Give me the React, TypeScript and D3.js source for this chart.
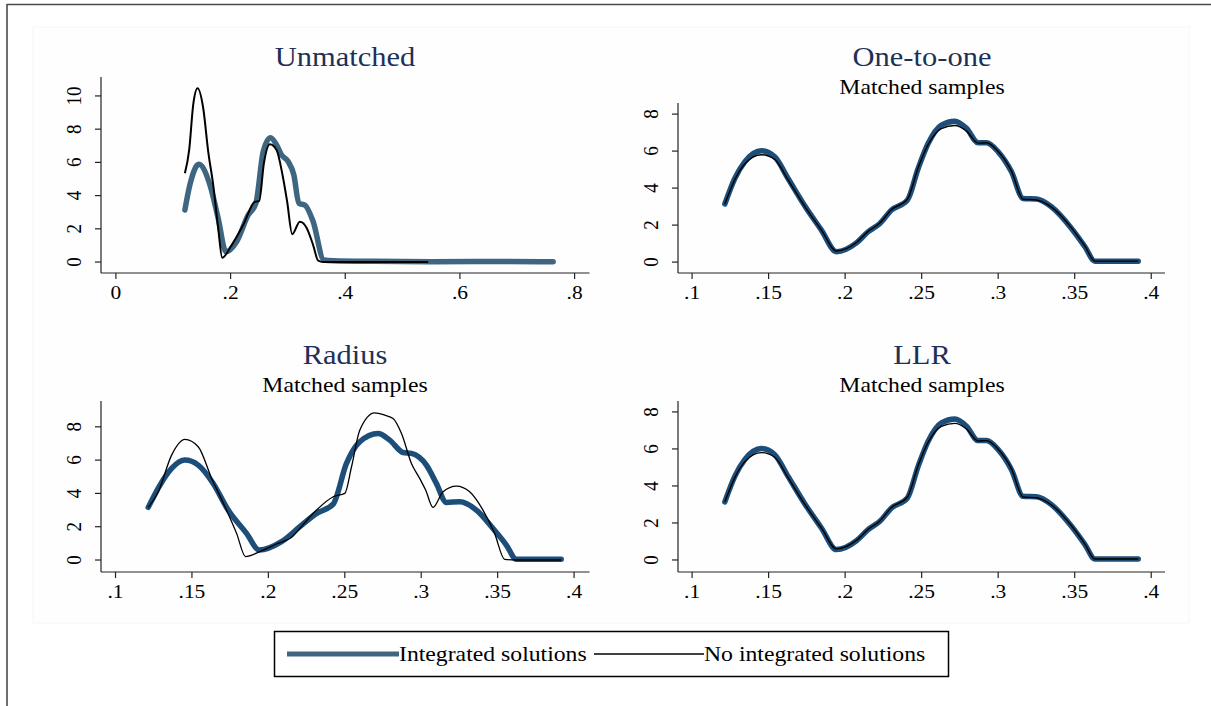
import React from "react";
import { scaleLinear, line, curveMonotoneX } from "d3";

// density estimates: [propensity score, density]
const unmatchedIntegrated: [number, number][] = [
  [0.1203, 3.13], [0.129, 4.64], [0.1447, 5.88], [0.164, 4.64], [0.1784, 2.63],
  [0.1918, 0.62], [0.2104, 1.22], [0.2307, 2.83], [0.2441, 3.53], [0.2569, 6.65],
  [0.2697, 7.49], [0.2802, 7.05], [0.2889, 6.45], [0.3005, 6.04], [0.3104, 5.24],
  [0.3191, 3.53], [0.3296, 3.43], [0.3441, 2.43], [0.3627, 0.12], [0.379, 0.08],
  [0.45, 0.04], [0.55, 0.02], [0.65, 0.03], [0.7626, 0.02],
];
const unmatchedNone: [number, number][] = [
  [0.1203, 5.34], [0.1278, 6.75], [0.1348, 9.46], [0.1424, 10.46], [0.1523, 9.26],
  [0.161, 6.65], [0.1697, 4.64], [0.1784, 2.03], [0.1854, 0.26], [0.2018, 1.02],
  [0.222, 2.23], [0.2424, 3.63], [0.2499, 3.67], [0.2581, 5.94], [0.2685, 7.09],
  [0.2802, 6.75], [0.2906, 5.24], [0.2987, 3.63], [0.3075, 1.67], [0.3208, 2.43],
  [0.3325, 2.07], [0.344, 1.02], [0.3528, 0.08], [0.3615, 0.0], [0.45, 0.0], [0.5446, 0.0],
];
const oneToOneIntegrated: [number, number][] = [
  [0.1214, 3.14], [0.1279, 4.52], [0.1344, 5.42], [0.1453, 6.02], [0.154, 5.69],
  [0.1627, 4.52], [0.1737, 3.03], [0.1845, 1.73], [0.1943, 0.56], [0.2074, 1.04],
  [0.215, 1.64], [0.2227, 2.09], [0.2303, 2.81], [0.2407, 3.35], [0.2477, 5.06],
  [0.2542, 6.41], [0.2629, 7.41], [0.2717, 7.62], [0.2793, 7.23], [0.2869, 6.45],
  [0.2924, 6.45], [0.3, 5.96], [0.3087, 4.88], [0.3163, 3.44], [0.325, 3.41],
  [0.3348, 2.99], [0.3479, 1.82], [0.3567, 0.83], [0.3632, 0.05], [0.3915, 0.05],
];
const oneToOneNone: [number, number][] = [
  [0.1214, 3.14], [0.1279, 4.45], [0.1344, 5.3], [0.1453, 5.8], [0.154, 5.55],
  [0.1627, 4.45], [0.1737, 3.0], [0.1845, 1.73], [0.1943, 0.6], [0.2074, 1.06],
  [0.215, 1.66], [0.2227, 2.11], [0.2303, 2.84], [0.2407, 3.4], [0.2477, 5.1],
  [0.2542, 6.35], [0.2629, 7.22], [0.2717, 7.38], [0.2793, 7.08], [0.2869, 6.43],
  [0.2924, 6.45], [0.3, 5.98], [0.3087, 4.92], [0.3163, 3.4], [0.325, 3.36],
  [0.3348, 2.97], [0.3479, 1.85], [0.3567, 0.86], [0.3632, 0.05], [0.3915, 0.05],
];
const radiusIntegrated: [number, number][] = [
  [0.1214, 3.16], [0.1291, 4.5], [0.1367, 5.5], [0.1454, 6.0], [0.1541, 5.7],
  [0.1639, 4.6], [0.1737, 3.0], [0.1857, 1.6], [0.194, 0.6], [0.2086, 1.1],
  [0.2206, 2.0], [0.2315, 2.8], [0.2424, 3.36], [0.2511, 5.8], [0.2598, 7.1],
  [0.2718, 7.6], [0.2794, 7.2], [0.2881, 6.46], [0.2936, 6.4], [0.3034, 5.7],
  [0.3099, 4.6], [0.3165, 3.46], [0.3252, 3.5], [0.3361, 3.0], [0.3469, 1.9],
  [0.3557, 0.9], [0.3622, 0.04], [0.3916, 0.04],
];
const radiusNone: [number, number][] = [
  [0.1214, 3.16], [0.128, 4.1], [0.1367, 6.3], [0.1454, 7.24], [0.1541, 6.8],
  [0.1629, 4.9], [0.1716, 3.2], [0.1792, 1.6], [0.1851, 0.2], [0.1944, 0.5],
  [0.2053, 0.96], [0.2162, 1.44], [0.2206, 1.9], [0.2315, 3.0], [0.2424, 3.8],
  [0.25, 4.0], [0.2544, 5.6], [0.2598, 7.8], [0.2696, 8.84], [0.2761, 8.7],
  [0.2816, 8.5], [0.2871, 7.6], [0.2936, 5.8], [0.299, 4.9], [0.3029, 4.2],
  [0.3077, 3.16], [0.3143, 4.1], [0.323, 4.44], [0.3317, 4.1], [0.3404, 3.0],
  [0.348, 1.6], [0.3546, 0.04], [0.3622, 0.0], [0.3916, 0.0],
];
// LLR panel is the same as one-to-one in the picture
const llrIntegrated = oneToOneIntegrated;
const llrNone = oneToOneNone;

const xTicksWide = [0, 0.2, 0.4, 0.6, 0.8];
const xTicksNarrow = [0.1, 0.15, 0.2, 0.25, 0.3, 0.35, 0.4];
const yTicksTall = [0, 2, 4, 6, 8, 10];
const yTicksShort = [0, 2, 4, 6, 8];
const legendLabels = ["Integrated solutions", "No integrated solutions"];

const W = 1211;
const H = 706;
const SX = 1.13; // the picture is slightly stretched sideways
const FONT = "'Liberation Serif', 'Times New Roman', serif";
const TITLE = "#1e3059";

const panels = [
  { title: "Unmatched", sub: null, a: unmatchedIntegrated, b: unmatchedNone, color: "#3f6680",
    l: 101, r: 589.5, t: 77, bt: 273, xd: [-0.026, 0.826], yd: [-0.66, 11.14],
    xt: xTicksWide, yt: yTicksTall, cx: 345, ty: 66, sy: 0, wb: 2 },
  { title: "One-to-one", sub: "Matched samples", a: oneToOneIntegrated, b: oneToOneNone, color: "#1d4e79",
    l: 678, r: 1165, t: 103, bt: 273, xd: [0.0908, 0.409], yd: [-0.59, 8.6],
    xt: xTicksNarrow, yt: yTicksShort, cx: 922, ty: 66, sy: 94, wb: 1.4 },
  { title: "Radius", sub: "Matched samples", a: radiusIntegrated, b: radiusNone, color: "#1d4e79",
    l: 101, r: 589.5, t: 401, bt: 572, xd: [0.0905, 0.4101], yd: [-0.72, 9.55],
    xt: xTicksNarrow, yt: yTicksShort, cx: 345, ty: 364, sy: 392, wb: 1.3 },
  { title: "LLR", sub: "Matched samples", a: llrIntegrated, b: llrNone, color: "#1d4e79",
    l: 678, r: 1165, t: 401, bt: 572, xd: [0.0908, 0.409], yd: [-0.65, 8.59],
    xt: xTicksNarrow, yt: yTicksShort, cx: 922, ty: 364, sy: 392, wb: 1.4 },
];

const fmt = (d: number) => (d === 0 ? "0" : String(d).replace(/^0/, ""));

function Panel({ p }: { p: any }) {
  const x = scaleLinear().domain(p.xd).range([p.l, p.r]);
  const y = scaleLinear().domain(p.yd).range([p.bt, p.t]);
  const path = line<[number, number]>()
    .x((d) => x(d[0]))
    .y((d) => y(d[1]))
    .curve(curveMonotoneX);
  return (
    <g fontFamily={FONT}>
      <text transform={`translate(${p.cx},${p.ty}) scale(${SX},1)`} textAnchor="middle" fontSize={27} fill={TITLE}>
        {p.title}
      </text>
      {p.sub && (
        <text transform={`translate(${p.cx},${p.sy}) scale(${SX},1)`} textAnchor="middle" fontSize={21} fill="#000">
          {p.sub}
        </text>
      )}
      <path d={path(p.a) || ""} fill="none" stroke={p.color} strokeWidth={5.5} strokeLinecap="round" strokeLinejoin="round" />
      <path d={path(p.b) || ""} fill="none" stroke="#000" strokeWidth={p.wb} strokeLinejoin="round" />
      <line x1={p.l} x2={p.r} y1={p.bt} y2={p.bt} stroke="#222" strokeWidth={1.2} />
      <line x1={p.l} x2={p.l} y1={p.t} y2={p.bt} stroke="#222" strokeWidth={1.2} />
      {p.xt.map((t: number) => (
        <g key={"x" + t}>
          <line x1={x(t)} x2={x(t)} y1={p.bt} y2={p.bt + 6} stroke="#222" strokeWidth={1.2} />
          <text transform={`translate(${x(t)},${p.bt + 25.5}) scale(${SX},1)`} textAnchor="middle" fontSize={19}>
            {fmt(t)}
          </text>
        </g>
      ))}
      {p.yt.map((t: number) => (
        <g key={"y" + t}>
          <line x1={p.l - 6} x2={p.l} y1={y(t)} y2={y(t)} stroke="#222" strokeWidth={1.2} />
          <text transform={`translate(${p.l - 20},${y(t)}) scale(${SX},1) rotate(-90)`} textAnchor="middle" fontSize={19}>
            {fmt(t)}
          </text>
        </g>
      ))}
    </g>
  );
}

export default function App() {
  return (
    <svg width={W} height={H} style={{ position: "absolute", left: 0, top: 0, background: "#fff" }}>
      <rect x={33} y={27} width={1156} height={596} fill="#fefefe" stroke="#f6f6f6" />
      <line x1={7} x2={W} y1={4.5} y2={4.5} stroke="#4a4a4a" strokeWidth={1.6} />
      <line x1={7} x2={7} y1={4} y2={H} stroke="#4a4a4a" strokeWidth={1.6} />
      {panels.map((p) => (
        <Panel key={p.title} p={p} />
      ))}
      <g fontFamily={FONT}>
        <rect x={274.5} y={631.5} width={674} height={45} fill="#fff" stroke="#000" strokeWidth={1.5} />
        <line x1={287} x2={399} y1={654} y2={654} stroke="#3f6680" strokeWidth={5} />
        <text transform={`translate(399,661) scale(${SX},1)`} fontSize={21}>{legendLabels[0]}</text>
        <line x1={594} x2={704} y1={654} y2={654} stroke="#000" strokeWidth={1.5} />
        <text transform={`translate(704,661) scale(${SX},1)`} fontSize={21}>{legendLabels[1]}</text>
      </g>
    </svg>
  );
}
